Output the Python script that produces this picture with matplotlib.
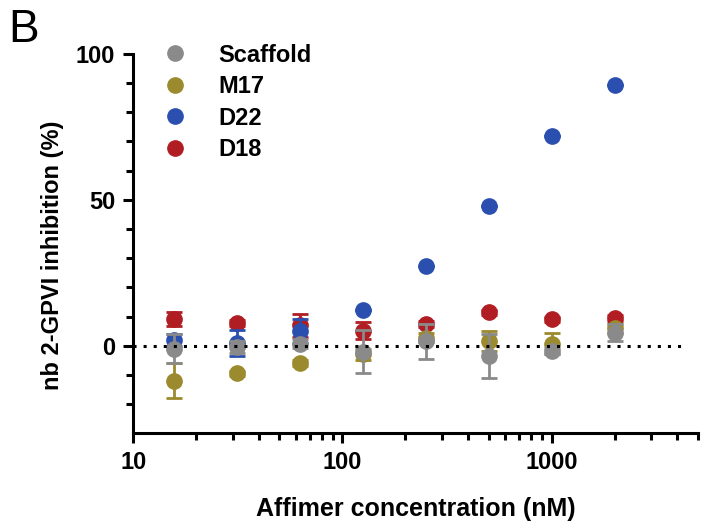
import numpy as np
import matplotlib
matplotlib.use("Agg")
import matplotlib.pyplot as plt
from matplotlib.lines import Line2D

plt.rcParams["font.family"] = ["Liberation Sans", "DejaVu Sans"]

# concentrations (nM)
conc = [15.6, 31.25, 62.5, 125, 250, 500, 1000, 2000]

# inhibition (%) and SD per construct
scaffold = [-1, -0.5, 0.7, -2, 1.5, -3.4, -1.7, 4.5]
scaffold_err = [5, 2, 1.5, 7.5, 6, 7.5, 1, 3]
m17 = [-12, -9.5, -6, -3, 2.8, 1.7, 0.7, 6]
m17_err = [6, 1, 1, 2, 1.5, 3.5, 3.6, 1.5]
d22 = [2, 1, 5, 12.3, 27.2, 48, 72, 89.5]
d22_err = [2, 4.5, 4, 0, 0, 0, 0, 0]
d18 = [9.3, 7.8, 7, 5.2, 7.5, 11.4, 9, 9.6]
d18_err = [2.4, 1, 4, 3, 1, 1, 1, 1]

names = ["Scaffold", "M17", "D22", "D18"]
colors = {"Scaffold": "#8a8a8a", "M17": "#9c8a2e",
          "D22": "#2b4fae", "D18": "#b01e24"}

fig = plt.figure(figsize=(7.12, 5.29), dpi=100)
ax = fig.add_axes([0.187, 0.181, 0.793, 0.717])

series = [("D18", d18, d18_err, 2), ("D22", d22, d22_err, 3),
          ("M17", m17, m17_err, 4), ("Scaffold", scaffold, scaffold_err, 5)]
for name, vals, err, z in series:
    ax.errorbar(conc, vals, yerr=err, fmt="o", ms=11,
                color=colors[name], ecolor=colors[name], elinewidth=2,
                capsize=6, capthick=2, zorder=z)

ax.plot([10, 4200], [0, 0], color="black", ls=(0, (1, 2.3)), lw=2.2,
        zorder=6)

ax.set_xscale("log")
ax.set_xlim(10, 5000)
ax.set_ylim(-30, 100)
ax.set_xticks([10, 100, 1000])
ax.set_xticklabels(["10", "100", "1000"])
ax.set_yticks([0, 50, 100])
ax.set_yticks(np.arange(-20, 100, 10), minor=True)

for s in ["top", "right"]:
    ax.spines[s].set_visible(False)
for s in ["left", "bottom"]:
    ax.spines[s].set_linewidth(2.2)
ax.tick_params(which="major", length=7, width=2.2, labelsize=17,
               direction="out", pad=6)
ax.tick_params(which="minor", length=5, width=2.2, direction="out")
for lab in ax.get_xticklabels() + ax.get_yticklabels():
    lab.set_fontweight("bold")

ax.set_xlabel("Affimer concentration (nM)", fontsize=18, fontweight="bold",
              labelpad=16)
ax.set_ylabel("nb 2-GPVI inhibition (%)", fontsize=17, fontweight="bold")
ax.yaxis.set_label_coords(-0.122, 0.47)

handles = [Line2D([], [], marker="o", ls="none", ms=11, color=colors[n])
           for n in names]
ax.legend(handles, names, loc="upper left", bbox_to_anchor=(0.005, 1.083),
          frameon=False, prop={"weight": "bold", "size": 17},
          handletextpad=1.1, labelspacing=0.36, handlelength=1.5)

fig.text(0.012, 0.985, "B", fontsize=33, va="top", ha="left")

fig.savefig("out.png", dpi=100)
